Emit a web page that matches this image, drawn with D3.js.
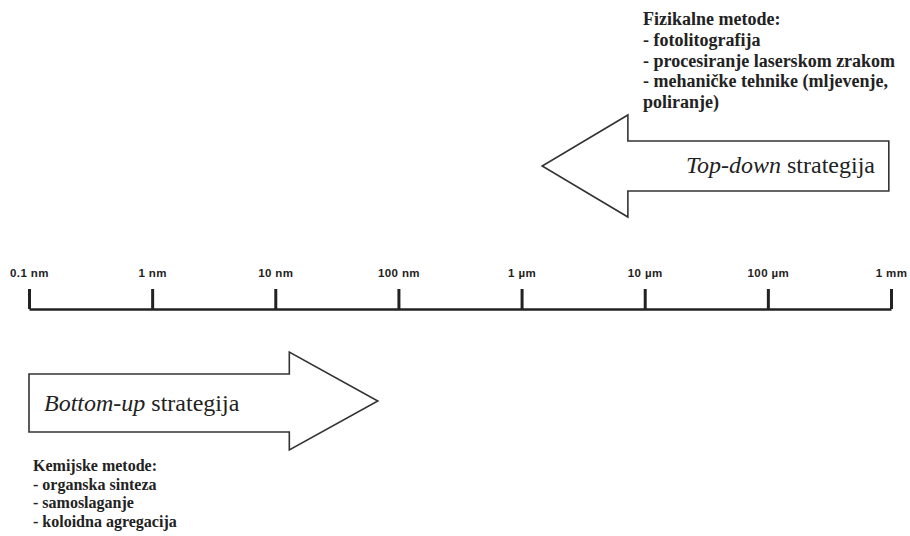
<!DOCTYPE html>
<html><head><meta charset="utf-8">
<script src="https://cdn.jsdelivr.net/npm/d3@7/dist/d3.min.js"></script>
<style>body{margin:0;background:#fff;} svg{display:block;}</style>
</head><body>
<svg id="c" width="910" height="536"></svg>
<script>
// scale values in metres
const tickValues = [1e-10, 1e-9, 1e-8, 1e-7, 1e-6, 1e-5, 1e-4, 1e-3];
const tickLabels = ["0.1 nm", "1 nm", "10 nm", "100 nm", "1 \u00b5m", "10 \u00b5m", "100 \u00b5m", "1 mm"];
// arrows: [tail, head base, tip] in metres
const bottomUpExtent = [1e-10, 1.3e-8, 6.8e-8];
const topDownExtent = [9.6e-4, 7.3e-6, 1.47e-6];
const topLabel = ["Top-down", " strategija"];
const bottomLabel = ["Bottom-up", " strategija"];
const physicalMethods = ["Fizikalne metode:", "- fotolitografija", "- procesiranje laserskom zrakom", "- mehani\u010dke tehnike (mljevenje,", "poliranje)"];
const chemicalMethods = ["Kemijske metode:", "- organska sinteza", "- samoslaganje", "- koloidna agregacija"];

const svg = d3.select("#c");
const x = d3.scaleLog().domain([1e-10, 1e-3]).range([29, 891]);
const axisY = 309;

// axis
const axis = d3.axisTop(x).tickValues(tickValues)
  .tickFormat((d, i) => tickLabels[i]).tickSize(20).tickSizeOuter(0).tickPadding(12);
const ag = svg.append("g").attr("transform", `translate(0,${axisY})`).call(axis)
  .attr("font-family", "Liberation Sans").attr("font-size", 11.5).attr("font-weight", "bold");
ag.select(".domain").attr("stroke", "#222").attr("stroke-width", 2.5);
ag.selectAll(".tick line").attr("stroke", "#222").attr("stroke-width", 3);
ag.selectAll(".tick text").attr("fill", "#222").attr("letter-spacing", 0.4);

// arrows
function arrowPath(ext, shaftTop, shaftBot, headTop, headBot) {
  const tail = x(ext[0]), base = x(ext[1]), tip = x(ext[2]);
  const mid = (headTop + headBot) / 2;
  return d3.line()([[tail, shaftTop], [base, shaftTop], [base, headTop], [tip, mid],
    [base, headBot], [base, shaftBot], [tail, shaftBot]]) + "Z";
}
svg.append("path").attr("d", arrowPath(topDownExtent, 141, 191, 115, 217))
  .attr("fill", "#fff").attr("stroke", "#333").attr("stroke-width", 1.6).attr("stroke-linejoin", "miter");
svg.append("path").attr("d", arrowPath(bottomUpExtent, 374, 432, 352, 450))
  .attr("fill", "#fff").attr("stroke", "#333").attr("stroke-width", 1.6).attr("stroke-linejoin", "miter");

function strategy(lbl, xx, yy, anchor) {
  const t = svg.append("text").attr("x", xx).attr("y", yy).attr("text-anchor", anchor)
    .attr("font-family", "Liberation Serif").attr("font-size", 24).attr("fill", "#222");
  t.append("tspan").attr("font-style", "italic").text(lbl[0]);
  t.append("tspan").text(lbl[1]);
}
strategy(topLabel, 875, 173, "end");
strategy(bottomLabel, 44, 411, "start");

function methods(lines, xx, y0, size, dy) {
  svg.append("g").selectAll("text").data(lines).join("text")
    .attr("x", xx).attr("y", (d, i) => y0 + i * dy)
    .attr("font-family", "Liberation Serif")
    .attr("font-weight", "bold").attr("font-size", size).attr("fill", "#222")
    .text(d => d);
}
methods(physicalMethods, 643, 25, 18, 20.8);
methods(chemicalMethods, 33, 471, 16, 18.7);
</script>
</body></html>
